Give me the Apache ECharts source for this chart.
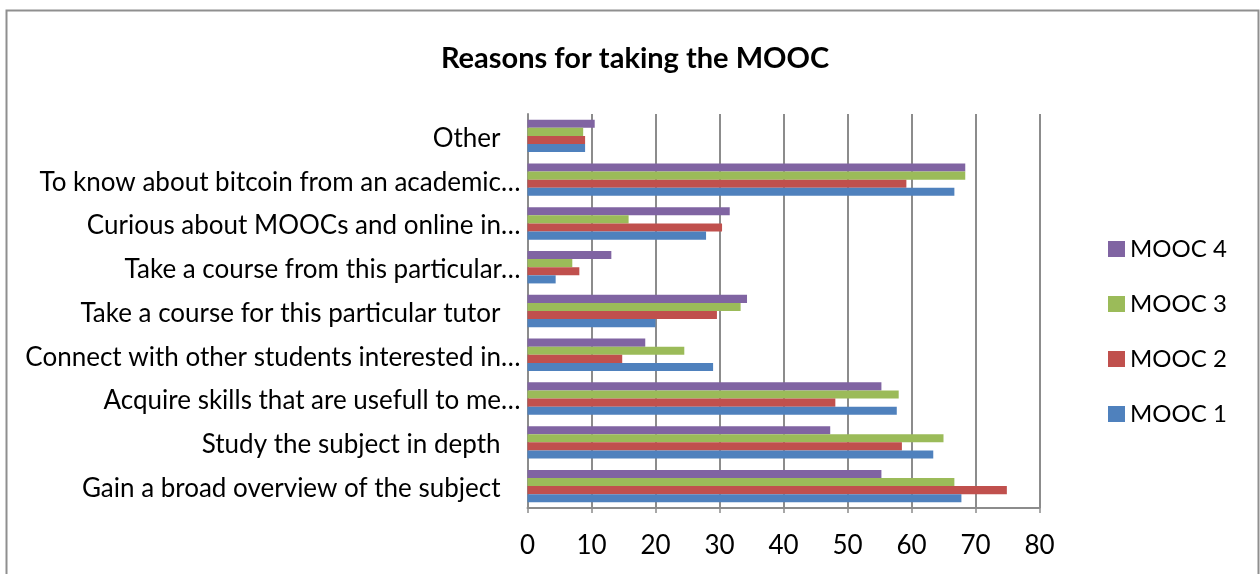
<!DOCTYPE html>
<html>
<head>
<meta charset="utf-8">
<style>
  html, body { margin: 0; padding: 0; background: #ffffff; }
  #chart { width: 1260px; height: 574px; }
</style>
<script src="https://cdn.jsdelivr.net/npm/echarts@6/dist/echarts.min.js"></script>
</head>
<body>
<div id="chart"></div>
<script>
// Reasons given by learners for enrolling, per course run (percent of respondents)
const categories = [
  'Gain a broad overview of the subject',
  'Study the subject in depth',
  'Acquire skills that are usefull to me…',
  'Connect with other students interested in…',
  'Take a course for this particular tutor',
  'Take a course from this particular…',
  'Curious about MOOCs and online in…',
  'To know about bitcoin from an academic…',
  'Other'
];
const seriesNames = ['MOOC 1', 'MOOC 2', 'MOOC 3', 'MOOC 4'];
const mooc1 = [67.8, 63.4, 57.7, 29.0, 20.0, 4.4, 27.9, 66.7, 9.0];
const mooc2 = [74.9, 58.5, 48.1, 14.8, 29.6, 8.1, 30.4, 59.2, 9.0];
const mooc3 = [66.7, 65.0, 58.0, 24.5, 33.3, 7.0, 15.8, 68.4, 8.7];
const mooc4 = [55.3, 47.3, 55.3, 18.4, 34.3, 13.1, 31.6, 68.4, 10.5];
const xTicks = { min: 0, max: 80, interval: 10 };

const colors = ['#4F81BD', '#C0504D', '#9BBB59', '#8064A2'];
const FONT = 'Lato';
const FS = 26;
const values = [mooc1, mooc2, mooc3, mooc4];

// Within a category ECharts stacks the first series at the top,
// so the series are added last-to-first to keep MOOC 1 at the bottom.
const order = [3, 2, 1, 0];

const chart = echarts.init(document.getElementById('chart'), null, { renderer: 'canvas' });

chart.setOption({
  animation: false,
  backgroundColor: '#ffffff',
  textStyle: { fontFamily: FONT },
  title: {
    text: 'Reasons for taking the MOOC',
    left: 630,
    top: 39,
    textAlign: 'center',
    textStyle: { fontFamily: FONT, fontWeight: 'bold', fontSize: 29, color: '#000000' }
  },
  legend: {
    orient: 'vertical',
    left: 1103,
    top: 231,
    itemWidth: 17,
    itemHeight: 16,
    itemGap: 29,
    icon: 'rect',
    data: seriesNames.slice().reverse(),
    textStyle: { fontFamily: FONT, fontSize: 24, color: '#000000', lineHeight: 26 }
  },
  grid: { left: 527.5, right: 220.5, top: 114, bottom: 66, containLabel: false },
  xAxis: {
    type: 'value',
    min: xTicks.min,
    max: xTicks.max,
    interval: xTicks.interval,
    axisLine: { show: true, lineStyle: { color: '#8c8c8c', width: 2 } },
    axisTick: { show: true, length: 5, lineStyle: { color: '#8c8c8c', width: 1.5 } },
    axisLabel: { margin: 25, fontFamily: FONT, fontSize: FS, color: '#000000' },
    splitLine: { show: true, lineStyle: { color: '#8c8c8c', width: 2 } }
  },
  yAxis: {
    type: 'category',
    data: categories,
    axisLine: { show: true, lineStyle: { color: '#8c8c8c', width: 2 } },
    axisTick: { show: false },
    axisLabel: {
      margin: 7,
      fontFamily: FONT,
      fontSize: FS,
      color: '#000000',
      formatter: function (v) {
        return v.endsWith('…') ? '{e|' + v + '}' : '{p|' + v + '}';
      },
      rich: {
        e: { fontFamily: FONT, fontSize: FS, color: '#000000', padding: [5, 0, 0, 0] },
        p: { fontFamily: FONT, fontSize: FS, color: '#000000', padding: [5, 20, 0, 0] }
      }
    }
  },
  series: order.map(function (i) {
    return {
      name: seriesNames[i],
      type: 'bar',
      data: values[i],
      barGap: '0%',
      barCategoryGap: '26%',
      itemStyle: { color: colors[i] }
    };
  }),
  graphic: [{
    type: 'rect',
    shape: { x: 6.5, y: 10.5, width: 1252, height: 620 },
    style: { fill: null, stroke: '#8f8f8f', lineWidth: 2 },
    silent: true,
    z: 100
  }]
});
</script>
</body>
</html>
